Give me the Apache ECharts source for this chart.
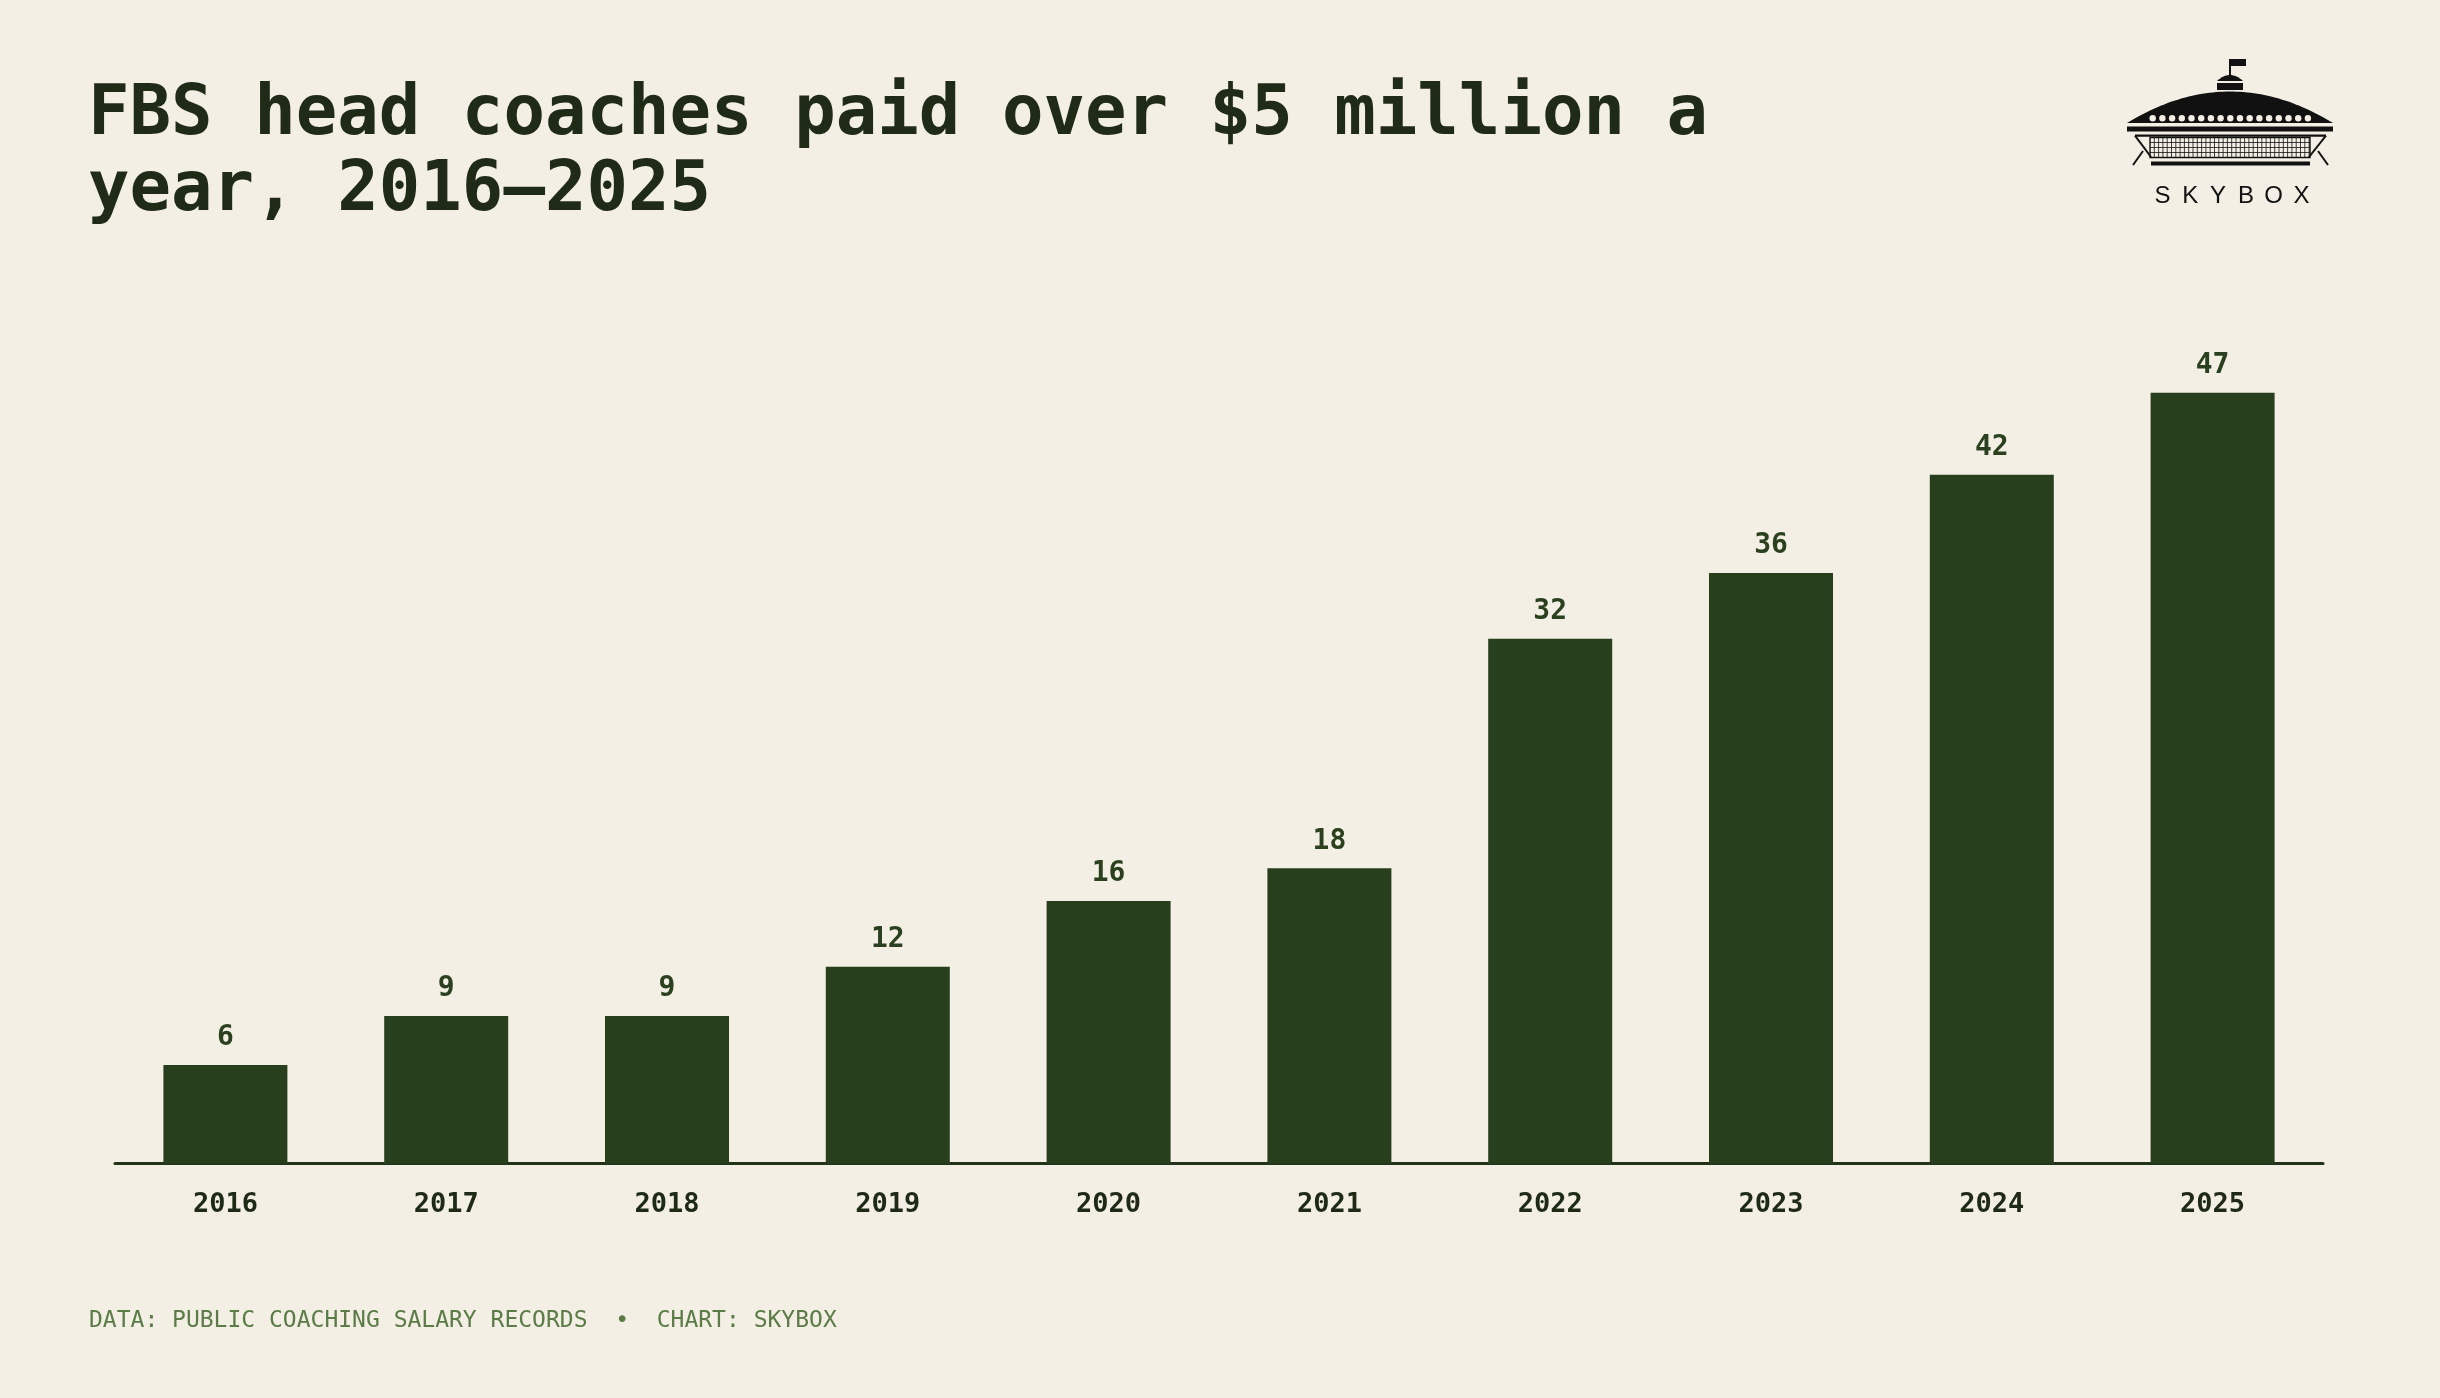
<!DOCTYPE html>
<html><head><meta charset="utf-8">
<script src="https://cdn.jsdelivr.net/npm/echarts@6/dist/echarts.min.js"></script>
<style>html,body{margin:0;padding:0;background:#f3efe4;}#c{width:2440px;height:1398px;}</style>
</head><body><div id="c"></div>
<script>
const years = ['2016','2017','2018','2019','2020','2021','2022','2023','2024','2025'];
const coaches = [6, 9, 9, 12, 16, 18, 32, 36, 42, 47];
const titleText = 'FBS head coaches paid over $5 million a\nyear, 2016\u20132025';
const footerText = 'DATA: PUBLIC COACHING SALARY RECORDS  \u2022  CHART: SKYBOX';
const brandLetters = ['S','K','Y','B','O','X'];

const BG = '#f3efe4';
const INK = '#111111';
const MONO = '"DejaVu Sans Mono", monospace';

// ---- logo (decorative drawing) ----
function arcPoints(x0, x1, yBase, yPeak, n) {
  const pts = [];
  const cy = 2 * yPeak - yBase;
  for (let i = 0; i <= n; i++) {
    const t = i / n;
    const x = x0 + (x1 - x0) * t;
    const y = yBase * (1 - t) * (1 - t) + 2 * cy * t * (1 - t) + yBase * t * t;
    pts.push([x, y]);
  }
  return pts;
}
const logo = [];
logo.push({type:'line', shape:{x1:2230,y1:59,x2:2230,y2:76}, style:{stroke:INK,lineWidth:2}});
logo.push({type:'rect', shape:{x:2230,y:59,width:16,height:7}, style:{fill:INK}});
logo.push({type:'polygon', shape:{points:arcPoints(2217, 2243, 81, 75, 16)}, style:{fill:INK}});
logo.push({type:'rect', shape:{x:2217,y:83,width:26,height:7}, style:{fill:INK}});
logo.push({type:'polygon', shape:{points:arcPoints(2127, 2333, 123, 91.5, 60)}, style:{fill:INK}});
for (let i = 0; i < 17; i++) {
  logo.push({type:'circle', shape:{cx:2152.7 + i*9.7, cy:118.3, r:3.2}, style:{fill:BG}});
}
logo.push({type:'rect', shape:{x:2127,y:126.5,width:206,height:5}, style:{fill:INK}});
logo.push({type:'line', shape:{x1:2135,y1:135.7,x2:2326,y2:135.7}, style:{stroke:INK,lineWidth:2.2}});
logo.push({type:'line', shape:{x1:2135,y1:135.7,x2:2151,y2:157}, style:{stroke:INK,lineWidth:2}});
logo.push({type:'line', shape:{x1:2326,y1:135.7,x2:2309,y2:157}, style:{stroke:INK,lineWidth:2}});
logo.push({type:'rect', shape:{x:2150,y:137.5,width:160,height:20}, style:{fill:'none',stroke:INK,lineWidth:1.4}});
for (let x = 2154.3; x < 2310; x += 4.3) {
  logo.push({type:'line', shape:{x1:x,y1:137.5,x2:x,y2:157.5}, style:{stroke:INK,lineWidth:0.8}});
}
[142.5, 147.5, 152.5].forEach(function(y){
  logo.push({type:'line', shape:{x1:2150,y1:y,x2:2310,y2:y}, style:{stroke:INK,lineWidth:0.8}});
});
logo.push({type:'line', shape:{x1:2143,y1:151,x2:2133,y2:165}, style:{stroke:INK,lineWidth:2}});
logo.push({type:'line', shape:{x1:2318,y1:151,x2:2328,y2:165}, style:{stroke:INK,lineWidth:2}});
logo.push({type:'rect', shape:{x:2151,y:161.5,width:159,height:4}, style:{fill:INK}});
brandLetters.forEach(function(ch, i){
  logo.push({type:'text', x:2162.5 + i*27.8, y:196.5, style:{text:ch, fill:INK, font:'normal 24px "Liberation Sans", Arial, sans-serif', textAlign:'center', textVerticalAlign:'middle'}});
});

const chart = echarts.init(document.getElementById('c'), null, {renderer:'canvas'});
chart.setOption({
  backgroundColor: BG,
  animation: false,
  title: [{
    text: titleText,
    left: 83, top: 73,
    textStyle: {fontFamily: MONO, fontWeight: 'bold', fontSize: 69, lineHeight: 76, color: '#1f2a17'}
  }, {
    text: footerText,
    left: 84, top: 1305,
    textStyle: {fontFamily: MONO, fontWeight: 'normal', fontSize: 23, color: '#5b7b47'}
  }],
  grid: {left: 115, right: 117, top: 343.5, bottom: 234.5, containLabel: false},
  xAxis: {
    type: 'category',
    data: years,
    axisLine: {show: true, lineStyle: {color: '#22331a', width: 3}},
    axisTick: {show: false},
    splitLine: {show: false},
    axisLabel: {fontFamily: MONO, fontWeight: 'bold', fontSize: 27, color: '#1e2a16', margin: 28}
  },
  yAxis: {type: 'value', min: 0, max: 50, show: false, splitLine: {show: false}},
  series: [{
    type: 'bar',
    data: coaches,
    barWidth: 124,
    itemStyle: {color: '#273f1d'},
    label: {show: true, position: 'top', distance: 13, fontFamily: MONO, fontWeight: 'bold', fontSize: 28, color: '#2a401f'}
  }],
  graphic: logo
});
</script>
</body></html>
